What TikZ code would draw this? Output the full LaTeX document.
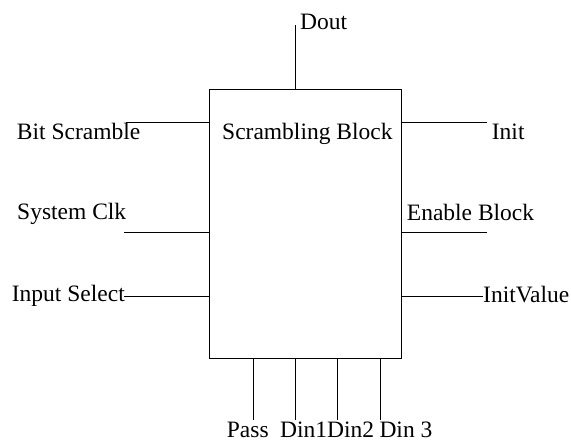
\documentclass[tikz,border=0pt]{standalone}
\usepackage{fontspec}
\setmainfont{Liberation Serif}
\begin{document}
\begin{tikzpicture}[x=1pt,y=-1pt,
  lbl/.style={inner sep=0pt, anchor=base west, font=\fontsize{23.5}{26}\selectfont},
  wire/.style={line width=1pt},
  blockbox/.style={draw, line width=1pt, minimum width=192.7pt, minimum height=269pt, inner sep=0pt}]
\useasboundingbox (0,0) rectangle (571,441);
\node[blockbox] (blk) at (305.35,223.8) {};
% free ends
\coordinate (dout) at (295.7,25);
\coordinate (bs) at (126,122.3);
\coordinate (sc) at (124,232.3);
\coordinate (is) at (124,296.7);
\coordinate (in) at (486.7,122.3);
\coordinate (eb) at (486.7,232.3);
\coordinate (iv) at (483,296.7);
\coordinate (pa) at (253.3,420);
\coordinate (d1) at (295.7,420);
\coordinate (d2) at (337.3,420);
\coordinate (d3) at (380,420);
% wires
\draw[wire] (blk.north -| dout) -- (dout);
\draw[wire] (blk.west |- bs) -- (bs);
\draw[wire] (blk.west |- sc) -- (sc);
\draw[wire] (blk.west |- is) -- (is);
\draw[wire] (blk.east |- in) -- (in);
\draw[wire] (blk.east |- eb) -- (eb);
\draw[wire] (blk.east |- iv) -- (iv);
\draw[wire] (blk.south -| pa) -- (pa);
\draw[wire] (blk.south -| d1) -- (d1);
\draw[wire] (blk.south -| d2) -- (d2);
\draw[wire] (blk.south -| d3) -- (d3);
% labels
\node[lbl] (tDout) at (300,30) {Dout};
\node[lbl] (tBS) at (16.7,139.5) {Bit Scramble};
\node[lbl] (tSB) at (222,139.5) {Scrambling Block};
\node[lbl] (tInit) at (491.7,139.5) {Init};
\node[lbl] (tSC) at (17,220) {System Clk};
\node[lbl] (tEB) at (406.7,220.5) {Enable Block};
\node[lbl] (tIS) at (11.7,301.7) {Input Select};
\node[lbl] (tIV) at (483,302) {InitValue};
\node[lbl] (tPass) at (226.7,437.5) {Pass};
\node[lbl] (tD1) at (280,437.5) {Din1};
\node[lbl] (tD2) at (327,437.5) {Din2};
\node[lbl] (tD3) at (379.3,437.5) {Din 3};
\end{tikzpicture}
\end{document}
